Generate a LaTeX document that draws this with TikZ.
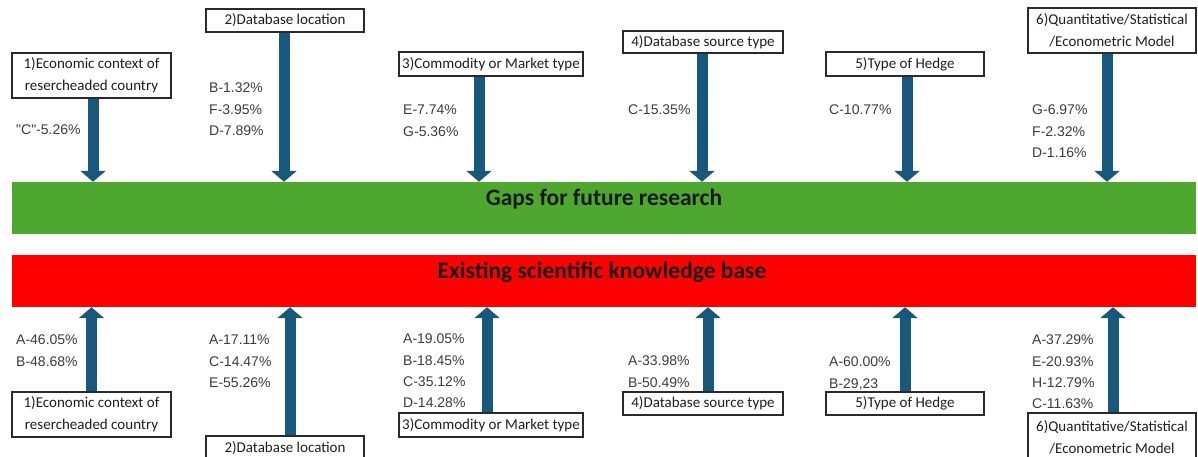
\documentclass[tikz,border=0pt]{standalone}
\usepackage{fontspec}
\usetikzlibrary{arrows.meta}
\newfontfamily\boxfont{Carlito}
\newfontfamily\pctfont{Liberation Sans}

\definecolor{gapgreen}{HTML}{4EA72E}
\definecolor{kbred}{HTML}{FF0000}
\definecolor{arrowblue}{RGB}{24,88,124}
\definecolor{pctgrey}{HTML}{3C3C3C}
\definecolor{boxline}{HTML}{2A2A2A}

\tikzset{
  bar/.style={rectangle, inner sep=0pt, minimum width=1184pt, minimum height=52pt},
  bartext/.style={inner sep=0pt, text=black!90,
    font=\boxfont\bfseries\fontsize{23.5}{26}\selectfont},
  catbox/.style={rectangle, draw=boxline, line width=1.3pt, fill=white, inner sep=0pt,
    align=center, text=black!88, font=\boxfont\fontsize{15}{22}\selectfont},
  pct/.style={anchor=north west, inner sep=0pt, align=left, text=pctgrey,
    font=\pctfont\fontsize{14}{21.3}\selectfont},
  link/.style={draw=arrowblue, line width=11pt,
    -{Triangle[width=25pt 0 0, length=11pt 0 0]}},
}

\begin{document}
\begin{tikzpicture}[x=1pt, y=-1pt]
\useasboundingbox (0,0) rectangle (1198,457);

% the two central bars and their titles
\node[bar, fill=gapgreen] (gap) at (604,208) {};
\node[bar, fill=kbred] (kb) at (604,281) {};
\node[bartext] (gaptext) at (604,199) {Gaps for future research};
\node[bartext] (kbtext) at (602,272) {Existing scientific knowledge base};

% category boxes above the bars
\node[catbox, minimum width=159pt, minimum height=45pt] (t1) at (91.5,75.5) {1)Economic context of\\reserche\-aded  country};
\node[catbox, minimum width=158pt, minimum height=23pt] (t2) at (285,20.5) {2)Database location};
\node[catbox, minimum width=184pt, minimum height=24pt] (t3) at (491,64) {3)Commodity or Market type};
\node[catbox, minimum width=160pt, minimum height=22pt] (t4) at (703,42) {4)Database source type};
\node[catbox, minimum width=158pt, minimum height=24pt] (t5) at (905,64) {5)Type of Hedge};
\node[catbox, minimum width=168pt, minimum height=45pt] (t6) at (1112,30.5) {6)Quantitative/Statistical\\/Econometric Model};

% category boxes below the bars
\node[catbox, minimum width=159pt, minimum height=45pt] (b1) at (91.5,414.5) {1)Economic context of\\reserche\-aded  country};
\node[catbox, minimum width=158pt, minimum height=24pt] (b2) at (285,448) {2)Database location};
\node[catbox, minimum width=184pt, minimum height=24pt] (b3) at (491,425) {3)Commodity or Market type};
\node[catbox, minimum width=160pt, minimum height=23pt] (b4) at (703,403.5) {4)Database source type};
\node[catbox, minimum width=158pt, minimum height=23pt] (b5) at (905,403.5) {5)Type of Hedge};
\node[catbox, minimum width=168pt, minimum height=48pt] (b6) at (1112,437) {6)Quantitative/Statistical\\/Econometric Model};

% arrows into the gaps bar
\draw[link] ([xshift=1.5pt]t1.south) -- ([xshift=1.5pt]t1.south |- gap.north);
\draw[link] ([xshift=-1pt]t2.south) -- ([xshift=-1pt]t2.south |- gap.north);
\draw[link] ([xshift=-12pt]t3.south) -- ([xshift=-12pt]t3.south |- gap.north);
\draw[link] ([xshift=-1pt]t4.south) -- ([xshift=-1pt]t4.south |- gap.north);
\draw[link] ([xshift=2pt]t5.south) -- ([xshift=2pt]t5.south |- gap.north);
\draw[link] ([xshift=-5pt]t6.south) -- ([xshift=-5pt]t6.south |- gap.north);

% arrows into the knowledge-base bar
\draw[link] (b1.north) -- (b1.north |- kb.south);
\draw[link] ([xshift=5pt]b2.north) -- ([xshift=5pt]b2.north |- kb.south);
\draw[link] ([xshift=-4pt]b3.north) -- ([xshift=-4pt]b3.north |- kb.south);
\draw[link] ([xshift=5pt]b4.north) -- ([xshift=5pt]b4.north |- kb.south);
\draw[link] (b5.north) -- (b5.north |- kb.south);
\draw[link] ([xshift=1pt]b6.north) -- ([xshift=1pt]b6.north |- kb.south);

% shares beside the upper arrows
\node[pct] (p1) at (16,125) {"C"-5.26\%};
\node[pct] (p2) at (209,83) {B-1.32\%\\F-3.95\%\\D-7.89\%};
\node[pct] (p3) at (403,105) {E-7.74\%\\G-5.36\%};
\node[pct] (p4) at (628,105) {C-15.35\%};
\node[pct] (p5) at (829,105) {C-10.77\%};
\node[pct] (p6) at (1032,105) {G-6.97\%\\F-2.32\%\\D-1.16\%};

% shares beside the lower arrows
\node[pct] (q1) at (16,335) {A-46.05\%\\B-48.68\%};
\node[pct] (q2) at (209,335) {A-17.11\%\\C-14.47\%\\E-55.26\%};
\node[pct] (q3) at (403,334) {A-19.05\%\\B-18.45\%\\C-35.12\%\\D-14.28\%};
\node[pct] (q4) at (628,356) {A-33.98\%\\B-50.49\%};
\node[pct] (q5) at (829,357) {A-60.00\%\\B-29,23};
\node[pct] (q6) at (1032,335) {A-37.29\%\\E-20.93\%\\H-12.79\%\\C-11.63\%};
\end{tikzpicture}
\end{document}
